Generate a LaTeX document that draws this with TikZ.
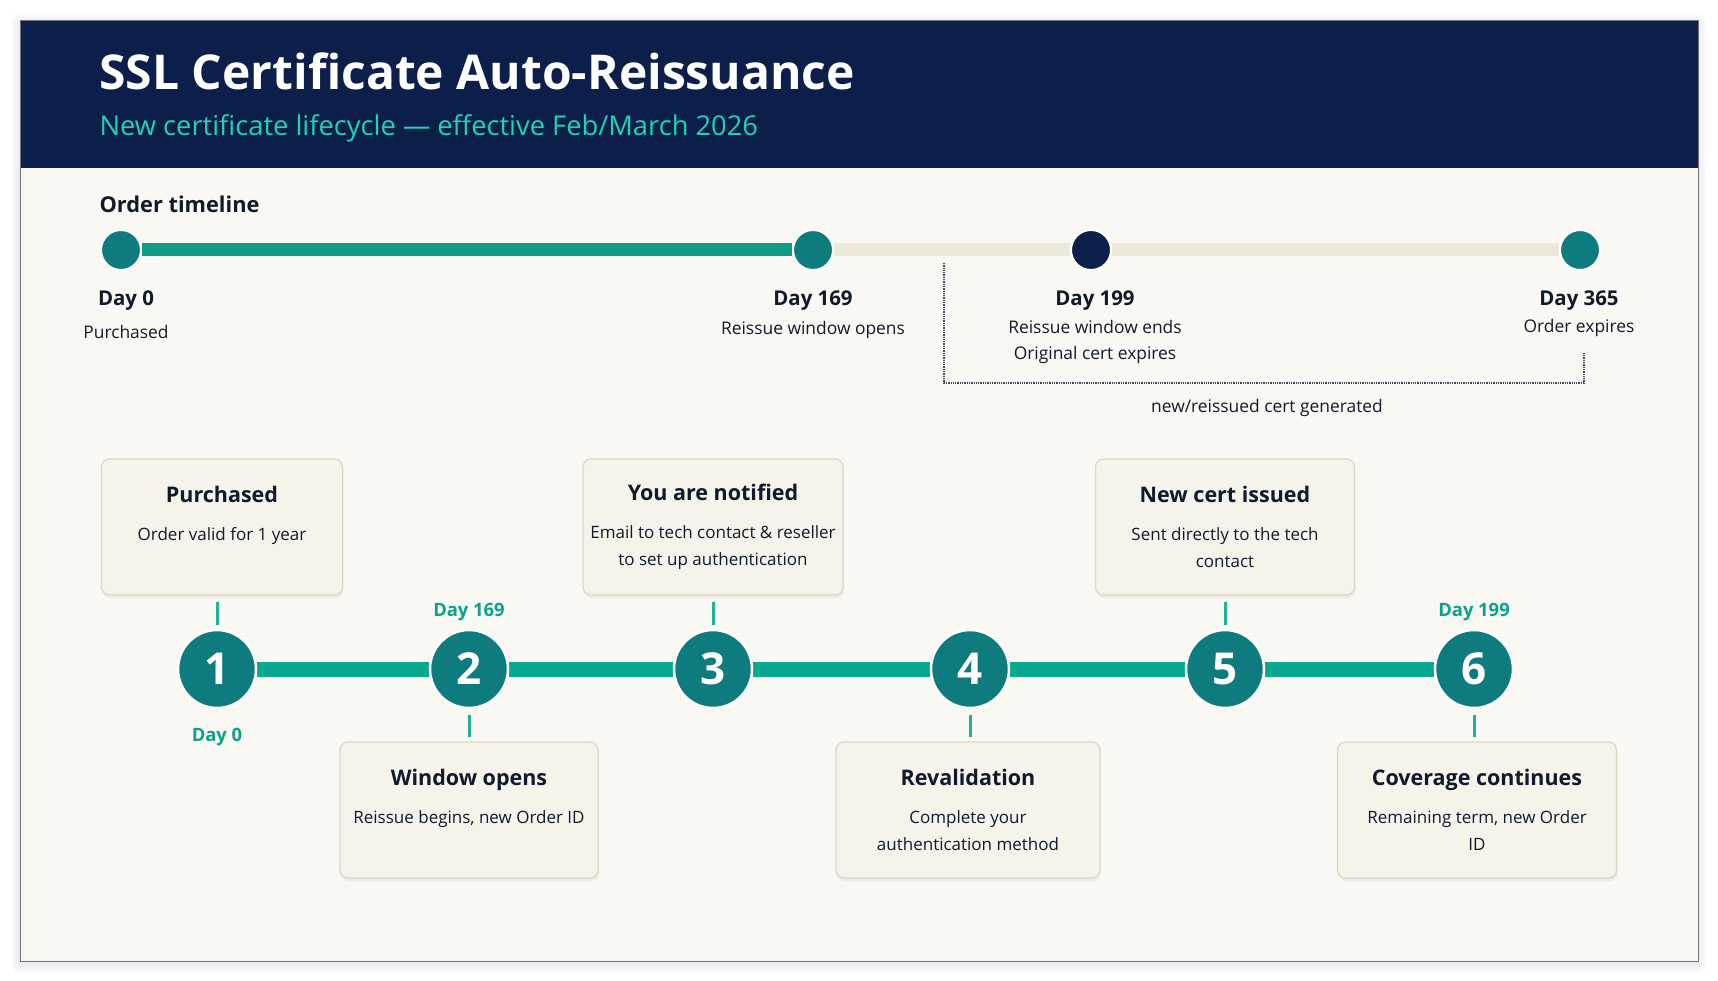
\documentclass[tikz,border=0pt]{standalone}
\usepackage{fontspec}
\setmainfont{Open Sans}
\usepackage{xcolor}
\usepackage{tikz}
\usetikzlibrary{positioning, calc, shadows, backgrounds}
\pgfdeclarelayer{links}
\pgfsetlayers{background,links,main}

\definecolor{navy}{HTML}{0B1F4A}
\definecolor{mint}{HTML}{1CD3B4}
\definecolor{paper}{HTML}{FAF8F3}
\definecolor{ink}{HTML}{111A2C}
\definecolor{tealdot}{HTML}{0E7C7F}
\definecolor{tealbar}{HTML}{0E9C85}
\definecolor{sand}{HTML}{EEE8DA}
\definecolor{tealline}{HTML}{06A98E}
\definecolor{tealtext}{HTML}{0AA38A}
\definecolor{cardfill}{HTML}{F6F3EA}
\definecolor{cardedge}{HTML}{E0D6BE}

\begin{document}
\begin{tikzpicture}[
    x=1pt, y=-1pt,
    card/.style={rectangle, rounded corners=8pt, draw=cardedge, line width=1.2pt, fill=cardfill, minimum width=#1, minimum height=136pt, align=center, text=ink, font=\fontsize{17}{27}\selectfont, drop shadow={opacity=0.10, shadow xshift=1pt, shadow yshift=-3pt}},
    dot/.style={circle, fill=#1, draw=white, line width=2pt, minimum size=40pt, inner sep=0pt},
    stepnum/.style={circle, fill=tealdot, draw=white, line width=2.5pt, minimum size=78pt, inner sep=0pt, text=white, font=\fontsize{44}{44}\bfseries\selectfont},
    daylbl/.style={text=ink, font=\fontsize{20.4}{22}\bfseries\selectfont},
    sublbl/.style={text=ink, align=center, font=\fontsize{17.4}{26}\selectfont},
    tealday/.style={text=tealtext, font=\fontsize{18.4}{20}\bfseries\selectfont},
    bar/.style={line width=15pt, tealline},
    stub/.style={line width=3pt, tealline!90!white, shorten <=6pt, shorten >=4pt},
    bracket/.style={densely dotted, line width=1.3pt, ink!80}
]
\useasboundingbox (0,0) rectangle (1718,981);

% frame and header
\begin{scope}[on background layer]
\foreach \s in {1,...,9}
    \fill[black!60!blue!40, opacity=0.025, rounded corners=\s pt] (20-\s,20-\s+3) rectangle (1698+\s,961+\s+3);
\fill[paper] (20,20) rectangle (1698,961);
\fill[navy] (20,20) rectangle (1698,168);
\draw[black!55, line width=0.8pt] (20,20) rectangle (1698,961);
\end{scope}

\node[anchor=west, text=white, font=\fontsize{48}{52}\bfseries\selectfont] (title) at (96,71) {SSL Certificate Auto-Reissuance};
\node[anchor=west, text=mint, font=\fontsize{27.3}{30}\selectfont] (subtitle) at (96,128) {New certificate lifecycle --- effective Feb/March 2026};
\node[anchor=west, text=ink, font=\fontsize{21.8}{24}\bfseries\selectfont] (order) at (96,204) {Order timeline};

% order timeline
\node[dot=tealdot] (d0) at (121,250) {};
\node[dot=tealdot] (d169) at (813,250) {};
\node[dot=navy] (d199) at (1091,250) {};
\node[dot=tealdot] (d365) at (1580,250) {};
\begin{pgfonlayer}{links}
\draw[line width=13pt, tealbar] (d0) -- (d169);
\draw[line width=13pt, sand] (d169) -- (d365);
\end{pgfonlayer}

\node[daylbl] (l0) at (126,301) {Day 0};
\node[sublbl] (s0) at (126,332) {Purchased};
\node[daylbl] (l169) at (813,301) {Day 169};
\node[sublbl] (s169) at (813,330) {Reissue window opens};
\node[daylbl] (l199) at (1095,301) {Day 199};
\node[sublbl, anchor=north] (s199) at (1095,317) {Reissue window ends\\Original cert expires};
\node[daylbl] (l365) at (1579,301) {Day 365};
\node[sublbl] (s365) at (1579,328) {Order expires};

\coordinate (brA) at (944,263);
\coordinate (brB) at (1584,353);
\draw[bracket] (brA) -- ++(0,120) -| (brB);
\node[sublbl] (gen) at (1267,408) {new/reissued cert generated};

% steps
\node[stepnum] (n1) at (217,669) {1};
\node[stepnum] (n2) at (469,669) {2};
\node[stepnum] (n3) at (713,669) {3};
\node[stepnum] (n4) at (970,669) {4};
\node[stepnum] (n5) at (1225,669) {5};
\node[stepnum] (n6) at (1474,669) {6};
\begin{pgfonlayer}{links}
\foreach \a/\b in {n1/n2, n2/n3, n3/n4, n4/n5, n5/n6}
    \draw[bar] (\a) -- (\b);
\end{pgfonlayer}

\node[tealday] (t1) at (217,737) {Day 0};
\node[tealday] (t2) at (469,612) {Day 169};
\node[tealday] (t6) at (1474,612) {Day 199};

\node[card=241pt] (c1) at (222,527) {{\fontsize{21.5}{27}\bfseries\selectfont Purchased}\\[11pt]Order valid for 1 year\\\mbox{}};
\node[card=260pt] (c3) at (713,527) {{\fontsize{21.5}{27}\bfseries\selectfont You are notified}\\[11pt]Email to tech contact \& reseller\\to set up authentication};
\node[card=259pt] (c5) at (1225,527) {{\fontsize{21.5}{27}\bfseries\selectfont New cert issued}\\[11pt]Sent directly to the tech\\contact};
\node[card=258pt] (c2) at (469,810) {{\fontsize{21.5}{27}\bfseries\selectfont Window opens}\\[11pt]Reissue begins, new Order ID\\\mbox{}};
\node[card=264pt] (c4) at (968,810) {{\fontsize{21.5}{27}\bfseries\selectfont Revalidation}\\[11pt]Complete your\\authentication method};
\node[card=279pt] (c6) at (1477,810) {{\fontsize{21.5}{27}\bfseries\selectfont Coverage continues}\\[11pt]Remaining term, new Order\\ID};

\draw[stub] (c1.south -| n1) -- (n1);
\draw[stub] (c3) -- (n3);
\draw[stub] (c5) -- (n5);
\draw[stub] (n2) -- (c2);
\draw[stub] (n4) -- (c4.north -| n4);
\draw[stub] (n6) -- (c6.north -| n6);
\end{tikzpicture}
\end{document}
